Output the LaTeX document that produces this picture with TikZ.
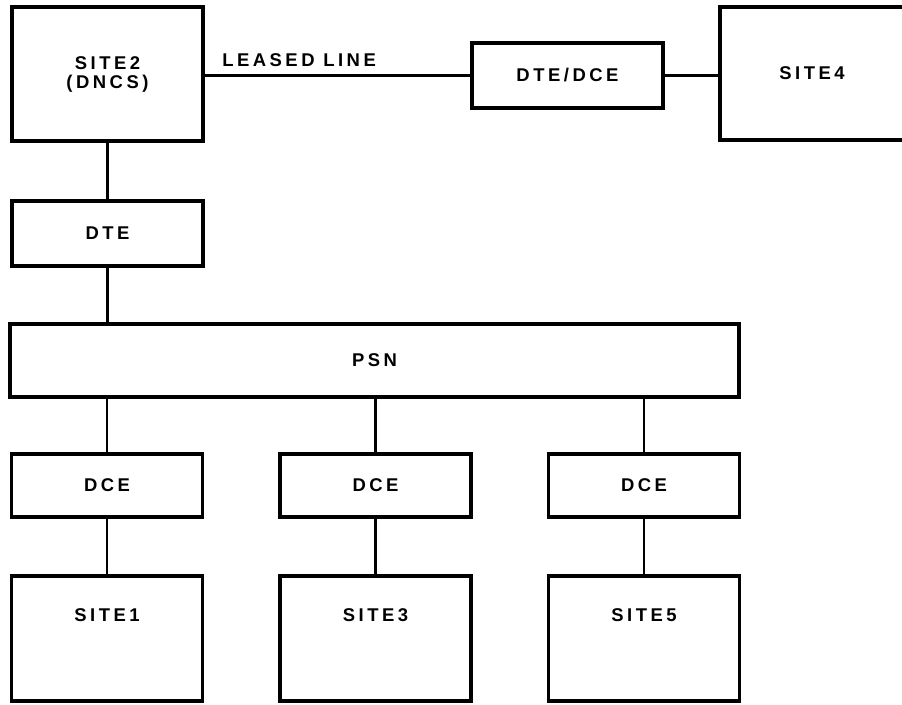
\documentclass[tikz,border=0pt]{standalone}
\usepackage{fontspec}
\newfontfamily\boxfont[LetterSpace=19]{Liberation Sans Bold}
\usetikzlibrary{positioning}

\begin{document}
\begin{tikzpicture}[
  font=\boxfont\fontsize{10.5}{10.8}\selectfont,
  unit/.style={draw,line width=2.2pt,minimum width=3.82cm,minimum height=1.30cm,align=center,inner sep=0pt},
  sitebox/.style={unit,minimum height=2.50cm},
  link/.style={line width=1.3pt}
]
  \useasboundingbox (0,0) rectangle (18.04,14.08);
  \clip (0,0) rectangle (18.04,14.08);

  % top row
  \node[unit,minimum height=2.68cm] (site2) at (2.15,12.60) {SITE2\\(DNCS)};
  \node[unit] (dtedce) at (11.35,12.57) {DTE/DCE};
  \node[unit,minimum width=3.68cm,minimum height=2.66cm] (site4) at (16.24,12.61) {SITE4};
  \draw[link] (site2.east |- dtedce.west) -- node[pos=0.355,above=1pt] (leased) {LEASED LINE} (dtedce.west);
  \draw[link] (dtedce.east) -- (site4.west |- dtedce.east);

  % network
  \node[unit,below=1.12cm of site2] (dte) {DTE};
  \node[unit,minimum width=14.58cm,minimum height=1.46cm] (psn) at (7.49,6.87) {PSN};
  \draw[link] (site2) -- (dte);
  \draw[link] (dte.south) -- (dte.south |- psn.north);

  % remote sites
  \foreach \i/\x/\n in {1/2.14/1, 2/7.51/3, 3/12.88/5} {
    \node[unit,minimum height=1.26cm] (dce\i) at (\x,4.37) {DCE};
    \node[sitebox,label={[anchor=center,yshift=-0.82cm]north:SITE\n}] (site\n) at (\x,1.31) {};
    \draw[link] (dce\i.north |- psn.south) -- (dce\i.north);
    \draw[link] (dce\i) -- (site\n);
  }
\end{tikzpicture}
\end{document}
